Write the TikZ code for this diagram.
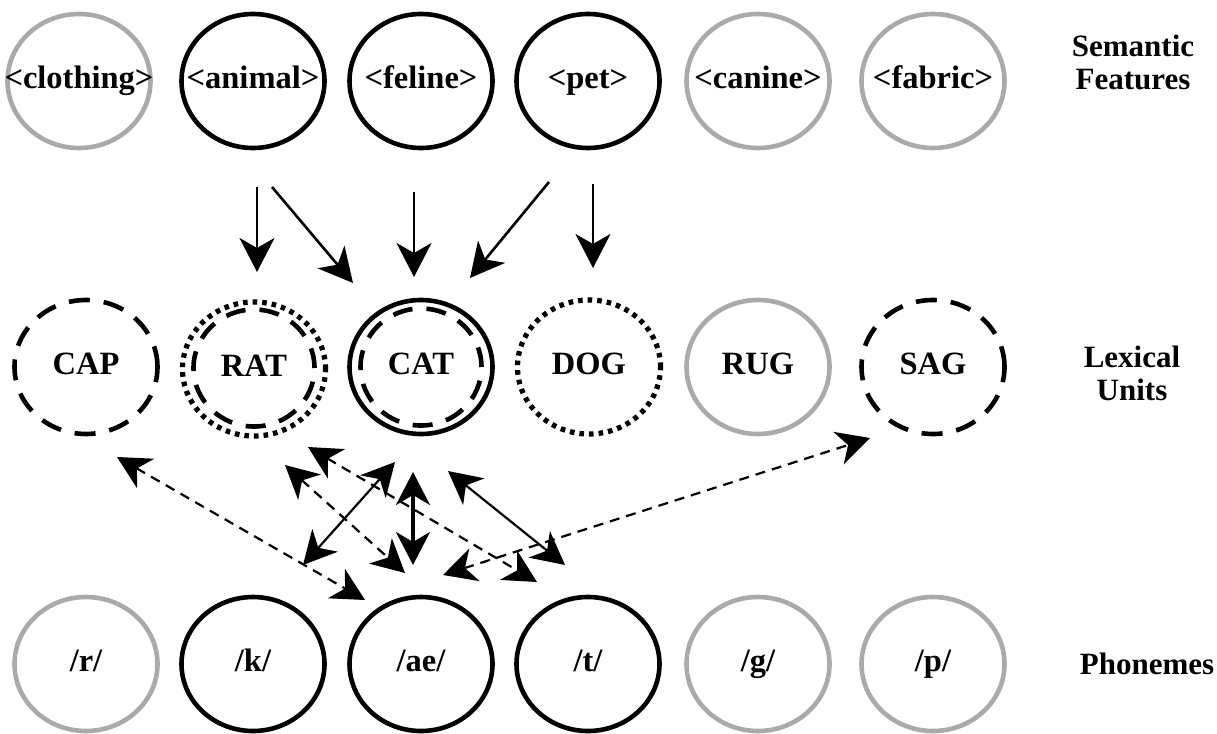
\documentclass[tikz,border=0pt]{standalone}
\usepackage{fontspec}
\setmainfont{Liberation Serif}
\usetikzlibrary{arrows.meta,shapes.geometric}
\definecolor{unitgray}{RGB}{170,170,170}
\newcommand{\unittext}[1]{\makebox[0pt][c]{\vphantom{<Xg>}#1}}
\begin{document}
\begin{tikzpicture}[x=1pt,y=-1pt,
  unit/.style={ellipse, minimum width=143pt, minimum height=134pt, inner sep=0pt,
    line width=4.6pt, font=\fontsize{32.5}{34}\selectfont\bfseries},
  active/.style={unit, draw=black},
  idle/.style={unit, draw=unitgray},
  dashedunit/.style={unit, draw=black, dash pattern=on 21pt off 14pt},
  dottedunit/.style={unit, draw=black, line width=5.2pt, dash pattern=on 4.6pt off 5pt},
  innerring/.style={ellipse, minimum width=121pt, minimum height=117pt, inner sep=0pt,
    draw=black, line width=4.6pt, dash pattern=on 20pt off 14pt},
  layer/.style={align=center, font=\fontsize{31}{33}\selectfont\bfseries},
  feed/.style={-{Stealth[length=34pt,width=35pt,inset=10pt]}, line width=2.6pt},
  link/.style={{Stealth[length=33pt,width=34pt,inset=10pt]}-{Stealth[length=33pt,width=34pt,inset=10pt]}, line width=2.2pt},
  dashlink/.style={link, dash pattern=on 10pt off 7pt}
]
\useasboundingbox (0,0) rectangle (1217,733);

% semantic features
\node[idle]   (clothing) at (79,81)  {\unittext{<clothing>}};
\node[active] (animal)   at (253,81) {\unittext{<animal>}};
\node[active] (feline)   at (421,81) {\unittext{<feline>}};
\node[active] (pet)      at (588,81) {\unittext{<pet>}};
\node[idle]   (canine)   at (758,81) {\unittext{<canine>}};
\node[idle]   (fabric)   at (933,81) {\unittext{<fabric>}};

% lexical units
\node[dashedunit] (CAP) at (86,367)  {\unittext{CAP}};
\node[dottedunit] (RAT) at (254,369) {\unittext{RAT}};
\node[innerring]  (RATin) at (254,368) {};
\node[active]     (CAT) at (421,367) {\unittext{CAT}};
\node[innerring]  (CATin) at (421,367) {};
\node[dottedunit] (DOG) at (589,367) {\unittext{DOG}};
\node[idle]       (RUG) at (758,367) {\unittext{RUG}};
\node[dashedunit] (SAG) at (933,367) {\unittext{SAG}};

% phonemes
\node[idle]   (r)  at (86,664)  {\unittext{/r/}};
\node[active] (k)  at (253,664) {\unittext{/k/}};
\node[active] (ae) at (421,664) {\unittext{/ae/}};
\node[active] (t)  at (588,664) {\unittext{/t/}};
\node[idle]   (g)  at (758,664) {\unittext{/g/}};
\node[idle]   (p)  at (933,664) {\unittext{/p/}};

% layer names
\node[layer] (semlabel) at (1133,62)  {Semantic\\Features};
\node[layer] (lexlabel) at (1132,373) {Lexical\\Units};
\node[layer] (phonlabel) at (1147,664) {Phonemes};

% end points of the feature-to-word links
\coordinate (animal-rat) at (257,187);  \coordinate (rat-top)   at (257,272);
\coordinate (animal-cat) at (272,187);  \coordinate (cat-left)  at (353,283);
\coordinate (feline-cat) at (414,192);  \coordinate (cat-top)   at (414,277);
\coordinate (pet-cat)    at (549,182);  \coordinate (cat-right) at (470,278);
\coordinate (pet-dog)    at (593,184);  \coordinate (dog-top)   at (593,268);

\draw[feed] (animal-rat) -- (rat-top);
\draw[feed] (animal-cat) -- (cat-left);
\draw[feed] (feline-cat) -- (cat-top);
\draw[feed] (pet-cat) -- (cat-right);
\draw[feed] (pet-dog) -- (dog-top);

% end points of the word-to-phoneme links
\coordinate (cap-low)  at (117,457);  \coordinate (ae-far)   at (365,600);
\coordinate (rat-low1) at (308,447);  \coordinate (t-left)   at (537,582);
\coordinate (rat-low2) at (285,465);  \coordinate (ae-left)  at (405,573);
\coordinate (cat-low1) at (395,462);  \coordinate (k-top)    at (303,565);
\coordinate (cat-low2) at (413,472);  \coordinate (ae-top)   at (413,565);
\coordinate (cat-low3) at (448,471);  \coordinate (t-top)    at (565,565);
\coordinate (ae-right) at (443,575);  \coordinate (sag-low)  at (870,438);

\draw[dashlink] (cap-low) -- (ae-far);
\draw[dashlink] (rat-low1) -- (t-left);
\draw[dashlink] (rat-low2) -- (ae-left);
\draw[link] (cat-low1) -- (k-top);
\draw[link, line width=3.2pt] (cat-low2) -- (ae-top);
\draw[link] (cat-low3) -- (t-top);
\draw[dashlink] (ae-right) -- (sag-low);
\end{tikzpicture}
\end{document}
